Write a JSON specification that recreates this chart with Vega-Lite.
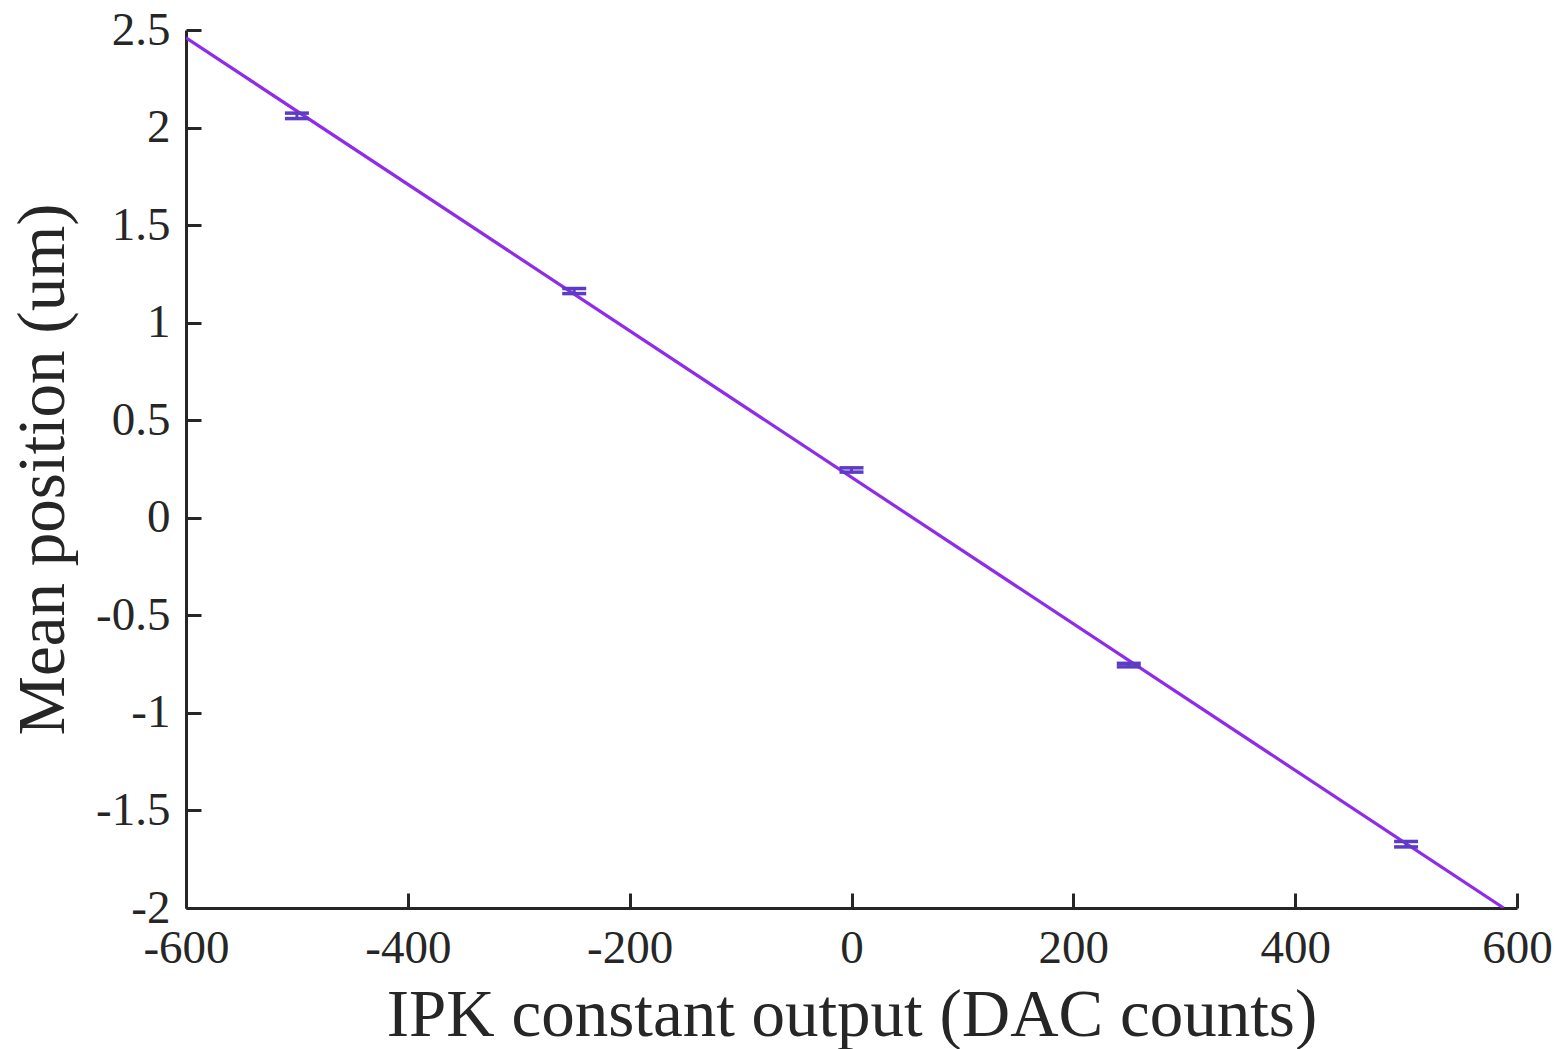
{
  "$schema": "https://vega.github.io/schema/vega-lite/v6.json",
  "autosize": "none",
  "width": 1331,
  "height": 878,
  "padding": {"left": 186, "top": 30, "right": 43, "bottom": 141},
  "background": "white",
  "config": {
    "view": {"stroke": null},
    "axis": {
      "grid": false,
      "domainColor": "#262626",
      "domainWidth": 3,
      "tickColor": "#262626",
      "tickWidth": 3,
      "tickSize": -15,
      "labelFlush": false,
      "labelFont": "Liberation Serif",
      "labelFontSize": 47,
      "labelColor": "#262626",
      "titleFont": "Liberation Serif",
      "titleFontSize": 67,
      "titleFontWeight": "normal",
      "titleColor": "#262626"
    }
  },
  "datasets": {
    "points": [
      {"x": -500, "y": 2.06, "err": 0.014},
      {"x": -250, "y": 1.162, "err": 0.013},
      {"x": 0, "y": 0.245, "err": 0.011},
      {"x": 250, "y": -0.755, "err": 0.009},
      {"x": 500, "y": -1.673, "err": 0.014}
    ],
    "fit": [
      {"x": -600, "y": 2.46},
      {"x": 588, "y": -2.0}
    ]
  },
  "layer": [
    {
      "data": {"name": "fit"},
      "mark": {"type": "line", "color": "#8f2bea", "strokeWidth": 3.2, "clip": true},
      "encoding": {
        "x": {"field": "x", "type": "quantitative",
              "scale": {"domain": [-600, 600], "nice": false},
              "axis": {"values": [-600, -400, -200, 0, 200, 400, 600], "labelExpr": "'' + datum.value", "labelPadding": 32, "title": "IPK constant output (DAC counts)", "titlePadding": 11}},
        "y": {"field": "y", "type": "quantitative",
              "scale": {"domain": [-2, 2.5], "nice": false, "zero": false},
              "axis": {"values": [-2, -1.5, -1, -0.5, 0, 0.5, 1, 1.5, 2, 2.5], "labelExpr": "'' + datum.value", "labelPadding": 31, "title": "Mean position (um)", "titlePadding": 18}}
      }
    },
    {
      "data": {"name": "points"},
      "mark": {"type": "errorbar", "color": "#5b3cc4", "opacity": 1, "ticks": {"size": 24, "thickness": 3.5, "opacity": 1}, "rule": {"strokeWidth": 3, "opacity": 1}},
      "encoding": {
        "x": {"field": "x", "type": "quantitative", "title": "IPK constant output (DAC counts)"},
        "y": {"field": "y", "type": "quantitative", "title": "Mean position (um)"},
        "yError": {"field": "err"}
      }
    }
  ]
}
